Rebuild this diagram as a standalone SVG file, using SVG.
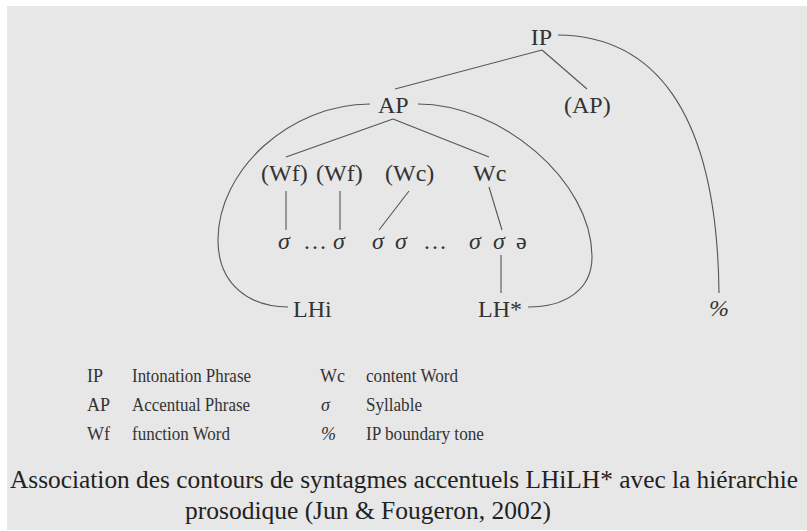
<svg xmlns="http://www.w3.org/2000/svg" width="807" height="531" viewBox="0 0 807 531">
<style>
.t{font-size:24px}
.it{font-style:italic}
.lg{font-size:18px}
.cap{font-size:26px;fill:#222}
.c path,.c line{stroke:#555;stroke-width:1.1;fill:none}
</style>
<rect x="0" y="0" width="807" height="531" fill="#fff"/>
<rect x="7" y="6" width="800" height="524" fill="#e7e7e7"/>
<g class="c" id="connectors">
<line x1="542" y1="50" x2="395" y2="89"/>
<line x1="542" y1="50" x2="587" y2="89"/>
<path d="M558,35 C650,36 717,105 719,293"/>
<path d="M370,104 C290,104 218,170 218,240 C218,285 250,307 288,307"/>
<path d="M418,104 C500,104 592,180 592,257 C592,290 565,307 528,307"/>
<line x1="393" y1="119" x2="286" y2="157"/>
<line x1="393" y1="119" x2="489" y2="157"/>
<line x1="286" y1="191" x2="286" y2="230"/>
<line x1="340" y1="191" x2="340" y2="230"/>
<line x1="409" y1="191" x2="379" y2="230"/>
<line x1="489" y1="187" x2="502" y2="230"/>
<line x1="501" y1="255" x2="501" y2="293"/>
</g>
<g font-family="Liberation Serif, DejaVu Serif, serif" fill="#333">
<g id="IP"><text class="t" x="541.5" y="45" text-anchor="middle">IP</text></g>
<g id="AP"><text class="t" x="378" y="113">AP</text></g>
<g id="AP2"><text class="t" x="564" y="113">(AP)</text></g>
<g id="Wf1"><text class="t" x="261" y="181">(Wf)</text></g>
<g id="Wf2"><text class="t" x="316" y="181">(Wf)</text></g>
<g id="Wc1"><text class="t" x="385" y="181">(Wc)</text></g>
<g id="Wc2"><text class="t" x="473" y="181">Wc</text></g>
<g id="syl1"><text class="t it" x="278" y="249">σ</text><text class="t" x="303" y="249">…</text><text class="t it" x="333" y="249">σ</text></g>
<g id="syl2"><text class="t it" x="372" y="249">σ</text><text class="t it" x="395" y="249">σ</text><text class="t" x="423" y="249">…</text></g>
<g id="syl3"><text class="t it" x="469" y="249">σ</text><text class="t it" x="493" y="249">σ</text><text class="t" x="516" y="249">ə</text></g>
<g id="LHi"><text class="t" x="293" y="317">LHi</text></g>
<g id="LHstar"><text class="t" x="478" y="317">LH*</text></g>
<g id="pct"><text class="t it" x="709" y="316">%</text></g>
<g id="legend">
<text class="lg" x="87" y="382">IP</text>
<text class="lg" x="132" y="382" textLength="119" lengthAdjust="spacingAndGlyphs">Intonation Phrase</text>
<text class="lg" x="320" y="382">Wc</text>
<text class="lg" x="366" y="382" textLength="92" lengthAdjust="spacingAndGlyphs">content Word</text>
<text class="lg" x="87" y="411">AP</text>
<text class="lg" x="132" y="411" textLength="118" lengthAdjust="spacingAndGlyphs">Accentual Phrase</text>
<text class="lg it" x="321" y="411">σ</text>
<text class="lg" x="366" y="411" textLength="56" lengthAdjust="spacingAndGlyphs">Syllable</text>
<text class="lg" x="87" y="440">Wf</text>
<text class="lg" x="132" y="440" textLength="98" lengthAdjust="spacingAndGlyphs">function Word</text>
<text class="lg it" x="321" y="440">%</text>
<text class="lg" x="366" y="440" textLength="118" lengthAdjust="spacingAndGlyphs">IP boundary tone</text>
</g>
<g id="caption">
<text class="cap" x="10" y="488" textLength="788" lengthAdjust="spacingAndGlyphs">Association des contours de syntagmes accentuels LHiLH* avec la hiérarchie</text>
<text class="cap" x="185" y="519" textLength="366" lengthAdjust="spacingAndGlyphs">prosodique (Jun &amp; Fougeron, 2002)</text>
</g>
</g>
</svg>
